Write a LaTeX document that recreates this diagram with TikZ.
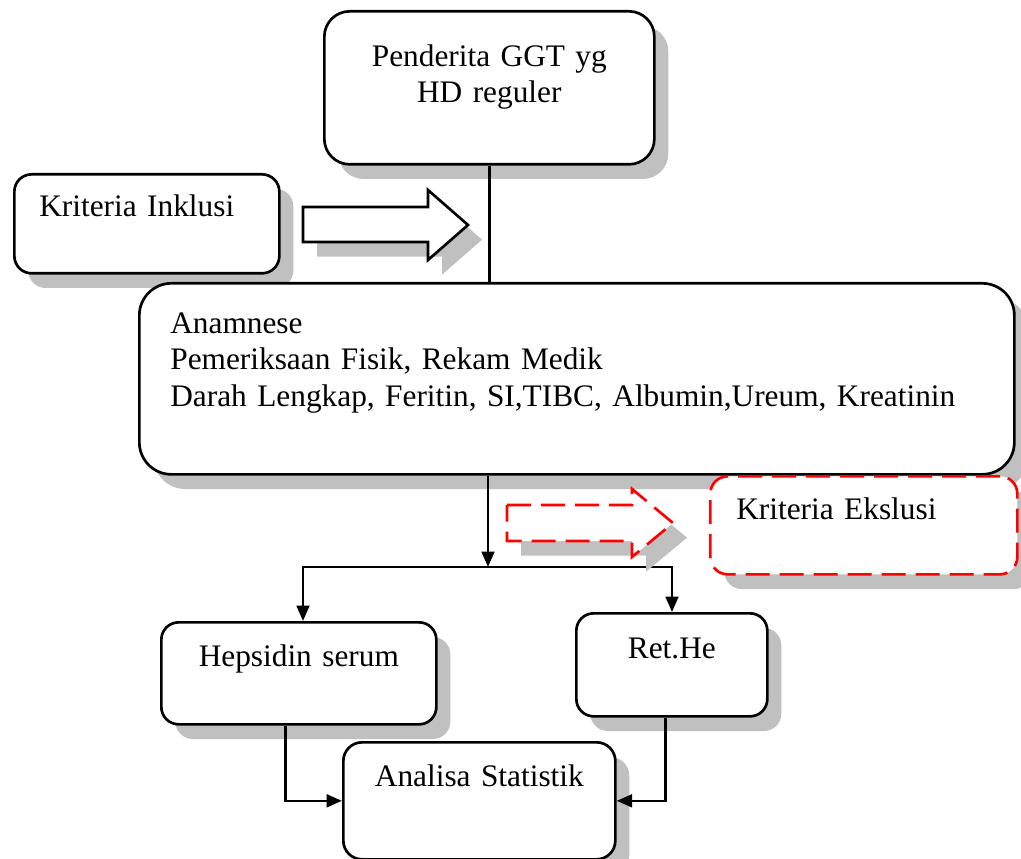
\documentclass[tikz,border=0pt]{standalone}
\usepackage{fontspec}
\setmainfont{Liberation Serif}
\usetikzlibrary{shadows,arrows.meta}
\definecolor{shadowgrey}{RGB}{192,192,192}

\begin{document}
\begin{tikzpicture}[x=0.75pt,y=-0.75pt,
font=\fontsize{23.5pt}{27.5pt}\selectfont,
boxshadow/.style={drop shadow={shadow xshift=10.5pt,shadow yshift=-11pt,fill=shadowgrey,opacity=1}},
flowbox/.style={draw,line width=2pt,fill=white,anchor=north west,inner ysep=0pt,boxshadow},
exclbox/.style={flowbox,draw=red,dash pattern=on 18pt off 7.5pt},
blockarrow/.style={draw,line width=2pt,fill=white,line join=miter,boxshadow},
flowline/.style={line width=2pt},
flowarrow/.style={flowline,-{Triangle[length=11.5pt,width=9.5pt]}},
splitarrow/.style={flowline,{Triangle[length=11.5pt,width=9.5pt]}-{Triangle[length=11.5pt,width=9.5pt]}}]
\useasboundingbox (0,0) rectangle (1021,859);
% boxes
\node[flowbox,rounded corners=19pt,inner xsep=0pt,text width=247.5pt,align=center,
  text height=41.25pt,text depth=73.5pt] (pend) at (323,10) {Penderita GGT yg\\HD reguler};
\node[flowbox,rounded corners=13pt,inner xsep=18.75pt,text width=161.25pt,align=left,
  text height=31.5pt,text depth=42.75pt] (inkl) at (13,173) {Kriteria Inklusi};
\node[flowbox,rounded corners=24pt,inner xsep=23.25pt,text width=609.75pt,align=left,
  text height=37.5pt,text depth=105.75pt] (tes) at (138,282)
  {Anamnese\\Pemeriksaan Fisik, Rekam Medik\\Darah Lengkap, Feritin, SI,TIBC, Albumin,Ureum, Kreatinin};
\node[exclbox,rounded corners=13pt,inner xsep=19.5pt,text width=191.25pt,align=left,
  text height=32.25pt,text depth=41.25pt] (eks) at (709,475) {Kriteria Ekslusi};
\node[flowbox,rounded corners=13pt,inner xsep=0pt,text width=206.25pt,align=center,
  text height=33pt,text depth=43.5pt] (hep) at (160,621) {Hepsidin serum};
\node[flowbox,rounded corners=13pt,inner xsep=0pt,text width=143.25pt,align=center,
  text height=33.75pt,text depth=43.5pt] (ret) at (575,612) {Ret.He};
\node[flowbox,rounded corners=14pt,inner xsep=0pt,text width=204pt,align=center,
  text height=33pt,text depth=54.75pt] (ana) at (342,741) {Analisa Statistik};
% connectors
\coordinate (split) at (488,567);
\coordinate (splitL) at (303,567);
\coordinate (splitR) at (672,567);
\draw[flowline] (pend.south) -- (pend.south |- tes.north);
\draw[flowarrow] (split |- tes.south) -- (split);
\draw[splitarrow] (splitL |- hep.north) -- (splitL) -- (splitR) -- (splitR |- ret.north);
\draw[flowarrow] ([xshift=-10pt]hep.south) |- (ana.west);
\draw[flowarrow] ([xshift=-5pt]ret.south) |- (ana.east);
% block arrows
\draw[blockarrow] (303,207) -- (428,207) -- (428,190) -- (468,225) -- (428,260) -- (428,242) -- (303,242) -- cycle;
\draw[blockarrow,draw=red,dash pattern=on 18pt off 7.5pt] (507,505) -- (632,505) -- (632,489) -- (673,523)
  -- (632,557) -- (632,541) -- (507,541) -- cycle;
\end{tikzpicture}
\end{document}
